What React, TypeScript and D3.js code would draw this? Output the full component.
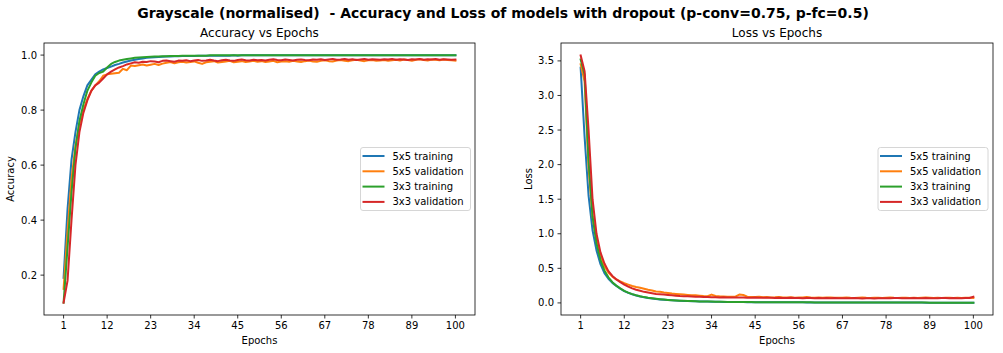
import React from "react";
import * as d3 from "d3";

const epochs = d3.range(1, 101);
const xTicks = [1, 12, 23, 34, 45, 56, 67, 78, 89, 100];
const accTicks = [0.2, 0.4, 0.6, 0.8, 1.0];
const lossTicks = [0.0, 0.5, 1.0, 1.5, 2.0, 2.5, 3.0, 3.5];
const seriesNames = ["5x5 training", "5x5 validation", "3x3 training", "3x3 validation"];
const colors = ["#1f77b4", "#ff7f0e", "#2ca02c", "#d62728"];

const acc5Train = [
  0.19, 0.44, 0.62, 0.72, 0.8, 0.85, 0.89, 0.91, 0.93, 0.94,
  0.948, 0.953, 0.958, 0.964, 0.968, 0.973, 0.977, 0.98, 0.983, 0.986,
  0.988, 0.99, 0.991, 0.992, 0.993, 0.994, 0.995, 0.995, 0.996, 0.996,
  0.997, 0.997, 0.997, 0.997, 0.998, 0.998, 0.998, 0.998, 0.998, 0.998,
  0.998, 0.998, 0.998, 0.999, 0.998, 0.999, 0.999, 0.999, 0.999, 0.999,
  0.999, 0.999, 0.999, 0.999, 0.999, 0.999, 0.999, 0.999, 0.999, 0.999,
  0.999, 0.999, 0.999, 0.999, 0.999, 0.999, 0.999, 0.999, 0.999, 0.999,
  0.999, 0.999, 0.999, 0.999, 0.999, 0.999, 0.999, 0.999, 0.999, 0.999,
  0.999, 0.999, 0.999, 0.999, 0.999, 0.999, 0.999, 0.999, 0.999, 0.999,
  0.999, 0.999, 0.999, 0.999, 0.999, 0.999, 0.999, 0.999, 0.999, 0.999,
];
const acc5Val = [
  0.15, 0.36, 0.55, 0.67, 0.75, 0.8, 0.84, 0.87, 0.89, 0.905,
  0.925, 0.93, 0.932, 0.934, 0.936, 0.95, 0.945, 0.962, 0.96, 0.963,
  0.966, 0.962, 0.965, 0.968, 0.964, 0.969, 0.972, 0.975, 0.97, 0.974,
  0.976, 0.973, 0.975, 0.977, 0.972, 0.968, 0.974, 0.976, 0.978, 0.973,
  0.975, 0.977, 0.979, 0.974, 0.976, 0.978, 0.975, 0.977, 0.979, 0.976,
  0.978, 0.975, 0.977, 0.979, 0.974, 0.977, 0.978, 0.976, 0.979, 0.977,
  0.975, 0.978, 0.98, 0.977, 0.976, 0.979, 0.981, 0.978, 0.977, 0.98,
  0.982, 0.979, 0.978, 0.981, 0.983, 0.98, 0.978, 0.981, 0.982, 0.979,
  0.98, 0.982, 0.979, 0.981, 0.983, 0.98, 0.984, 0.982, 0.979, 0.983,
  0.985, 0.982, 0.98, 0.984, 0.983, 0.981, 0.984, 0.982, 0.981, 0.98,
];
const acc3Train = [
  0.1, 0.3, 0.5, 0.66, 0.76, 0.82, 0.87, 0.9, 0.925, 0.935,
  0.94, 0.955, 0.968, 0.975, 0.98, 0.983, 0.986, 0.988, 0.99, 0.991,
  0.992, 0.993, 0.994, 0.995, 0.995, 0.996, 0.996, 0.997, 0.997, 0.997,
  0.998, 0.998, 0.998, 0.998, 0.998, 0.998, 0.998, 0.999, 0.999, 0.999,
  0.999, 0.999, 0.999, 0.999, 0.999, 0.999, 0.999, 0.999, 0.999, 0.999,
  0.999, 0.999, 0.999, 0.999, 0.999, 0.999, 0.999, 0.999, 0.999, 0.999,
  0.999, 0.999, 0.999, 0.999, 0.999, 0.999, 0.999, 0.999, 0.999, 0.999,
  0.999, 0.999, 0.999, 0.999, 0.999, 0.999, 0.999, 0.999, 0.999, 0.999,
  0.999, 0.999, 0.999, 0.999, 0.999, 0.999, 0.999, 0.999, 0.999, 0.999,
  0.999, 0.999, 0.999, 0.999, 0.999, 0.999, 0.999, 0.999, 0.999, 0.999,
];
const acc3Val = [
  0.1, 0.18, 0.4, 0.6, 0.72, 0.79, 0.835, 0.87, 0.89, 0.9,
  0.915, 0.93, 0.94, 0.948, 0.955, 0.96, 0.966, 0.97, 0.974, 0.972,
  0.976, 0.975, 0.978, 0.977, 0.974, 0.979, 0.98, 0.978, 0.976, 0.98,
  0.979, 0.981, 0.978, 0.98, 0.982, 0.979, 0.98, 0.983, 0.98, 0.978,
  0.981, 0.983, 0.98, 0.979, 0.982, 0.984, 0.981, 0.98, 0.983, 0.981,
  0.982, 0.98, 0.983, 0.985, 0.982, 0.981, 0.984, 0.982, 0.98, 0.983,
  0.984, 0.982, 0.981, 0.984, 0.983, 0.985, 0.982, 0.984, 0.986, 0.983,
  0.984, 0.986, 0.983, 0.985, 0.982, 0.984, 0.986, 0.983, 0.985, 0.984,
  0.983, 0.985, 0.984, 0.986, 0.983, 0.985, 0.984, 0.982, 0.985, 0.984,
  0.986, 0.983, 0.985, 0.984, 0.986, 0.983, 0.985, 0.984, 0.983, 0.984,
];

const loss5Train = [
  3.4, 2.4, 1.55, 1.05, 0.76, 0.56, 0.43, 0.35, 0.29, 0.245,
  0.205, 0.17, 0.145, 0.125, 0.107, 0.093, 0.081, 0.071, 0.063, 0.056,
  0.05, 0.045, 0.041, 0.037, 0.034, 0.031, 0.029, 0.027, 0.025, 0.023,
  0.021, 0.02, 0.019, 0.018, 0.017, 0.016, 0.015, 0.014, 0.014, 0.013,
  0.012, 0.012, 0.011, 0.011, 0.011, 0.01, 0.01, 0.01, 0.009, 0.009,
  0.009, 0.009, 0.008, 0.008, 0.008, 0.008, 0.008, 0.007, 0.007, 0.007,
  0.007, 0.007, 0.007, 0.006, 0.006, 0.006, 0.006, 0.006, 0.006, 0.006,
  0.006, 0.006, 0.005, 0.005, 0.005, 0.005, 0.005, 0.005, 0.005, 0.005,
  0.005, 0.005, 0.005, 0.005, 0.005, 0.005, 0.005, 0.004, 0.004, 0.004,
  0.004, 0.004, 0.004, 0.004, 0.004, 0.004, 0.004, 0.004, 0.004, 0.004,
];
const loss5Val = [
  3.45, 3.2, 1.95, 1.25, 0.9, 0.68, 0.53, 0.44, 0.38, 0.34,
  0.31, 0.285, 0.265, 0.245, 0.23, 0.22, 0.205, 0.19, 0.18, 0.165,
  0.16, 0.15, 0.145, 0.135, 0.13, 0.125, 0.12, 0.115, 0.11, 0.11,
  0.105, 0.1, 0.098, 0.12, 0.1, 0.095, 0.092, 0.09, 0.088, 0.09,
  0.12, 0.115, 0.09, 0.087, 0.085, 0.088, 0.083, 0.085, 0.08, 0.082,
  0.086, 0.08, 0.078, 0.082, 0.075, 0.078, 0.08, 0.085, 0.079, 0.076,
  0.078, 0.074, 0.077, 0.08, 0.076, 0.073, 0.075, 0.078, 0.074, 0.072,
  0.075, 0.078, 0.073, 0.071, 0.074, 0.076, 0.072, 0.075, 0.077, 0.073,
  0.071, 0.074, 0.076, 0.072, 0.075, 0.07, 0.073, 0.077, 0.074, 0.071,
  0.074, 0.072, 0.076, 0.073, 0.07, 0.074, 0.072, 0.075, 0.073, 0.071,
];
const loss3Train = [
  3.52, 3.3, 2.05, 1.25, 0.86, 0.62, 0.47, 0.37, 0.3, 0.25,
  0.21, 0.175, 0.148, 0.127, 0.11, 0.096, 0.084, 0.074, 0.066, 0.059,
  0.053, 0.048, 0.043, 0.039, 0.036, 0.033, 0.03, 0.028, 0.026, 0.024,
  0.022, 0.021, 0.02, 0.019, 0.018, 0.017, 0.016, 0.015, 0.015, 0.014,
  0.013, 0.013, 0.012, 0.012, 0.011, 0.011, 0.011, 0.01, 0.01, 0.01,
  0.009, 0.009, 0.009, 0.009, 0.008, 0.008, 0.008, 0.008, 0.008, 0.007,
  0.007, 0.007, 0.007, 0.007, 0.007, 0.006, 0.006, 0.006, 0.006, 0.006,
  0.006, 0.006, 0.006, 0.005, 0.005, 0.005, 0.005, 0.005, 0.005, 0.005,
  0.005, 0.005, 0.005, 0.005, 0.005, 0.005, 0.005, 0.005, 0.004, 0.004,
  0.004, 0.004, 0.004, 0.004, 0.004, 0.004, 0.004, 0.004, 0.004, 0.004,
];
const loss3Val = [
  3.58, 3.35, 2.5, 1.5, 1.0, 0.73, 0.57, 0.46, 0.39, 0.34,
  0.3, 0.265, 0.235, 0.21, 0.19, 0.175, 0.16, 0.15, 0.14, 0.13,
  0.125, 0.12, 0.115, 0.11, 0.105, 0.1, 0.098, 0.095, 0.092, 0.09,
  0.088, 0.086, 0.085, 0.083, 0.082, 0.08, 0.081, 0.079, 0.078, 0.08,
  0.077, 0.078, 0.076, 0.075, 0.077, 0.074, 0.075, 0.073, 0.074, 0.072,
  0.073, 0.071, 0.072, 0.074, 0.07, 0.071, 0.069, 0.072, 0.07, 0.068,
  0.07, 0.069, 0.071, 0.068, 0.07, 0.067, 0.069, 0.066, 0.068, 0.07,
  0.067, 0.065, 0.068, 0.066, 0.064, 0.067, 0.069, 0.066, 0.068, 0.07,
  0.072, 0.069, 0.066, 0.068, 0.071, 0.067, 0.069, 0.072, 0.068, 0.066,
  0.069, 0.072, 0.07, 0.068, 0.071, 0.069, 0.067, 0.07, 0.072, 0.088,
];

const FONT = "DejaVu Sans, sans-serif";

type PanelProps = {
  left: number;
  right: number;
  top: number;
  bottom: number;
  title: string;
  yLabel: string;
  yTicks: number[];
  series: number[][];
  legendX: number;
};

function Panel(props: PanelProps) {
  const { left, right, top, bottom, title, yLabel, yTicks, series, legendX } = props;

  // matplotlib style 5% margins on both axes
  const [xMin, xMax] = [1, 100];
  const xPad = (xMax - xMin) * 0.05;
  const x = d3.scaleLinear().domain([xMin - xPad, xMax + xPad]).range([left, right]);

  const all = series.flat();
  const yMin = d3.min(all) ?? 0;
  const yMax = d3.max(all) ?? 1;
  const yPad = (yMax - yMin) * 0.05;
  const y = d3.scaleLinear().domain([yMin - yPad, yMax + yPad]).range([bottom, top]);

  const line = d3
    .line<number>()
    .x((_, i) => x(epochs[i]))
    .y((d) => y(d));

  const legendY = (top + bottom) / 2 - 31.5;

  return (
    <g fontFamily={FONT}>
      <text x={(left + right) / 2} y={top - 6} textAnchor="middle" fontSize={12}>
        {title}
      </text>
      <defs>
        <clipPath id={`clip-${left}`}>
          <rect x={left} y={top} width={right - left} height={bottom - top} />
        </clipPath>
      </defs>
      <g clipPath={`url(#clip-${left})`}>
        {series.map((s, i) => (
          <path
            key={i}
            d={line(s) ?? ""}
            fill="none"
            stroke={colors[i]}
            strokeWidth={2}
            strokeLinejoin="round"
            strokeLinecap="square"
          />
        ))}
      </g>
      <rect
        x={left}
        y={top}
        width={right - left}
        height={bottom - top}
        fill="none"
        stroke="#000"
        strokeWidth={0.8}
      />
      {xTicks.map((t) => (
        <g key={t} transform={`translate(${x(t)},${bottom})`}>
          <line y2={3.5} stroke="#000" strokeWidth={0.8} />
          <text y={14} textAnchor="middle" fontSize={10}>
            {t}
          </text>
        </g>
      ))}
      {yTicks.map((t) => (
        <g key={t} transform={`translate(${left},${y(t)})`}>
          <line x2={-3.5} stroke="#000" strokeWidth={0.8} />
          <text x={-7} dy="0.35em" textAnchor="end" fontSize={10}>
            {t.toFixed(1)}
          </text>
        </g>
      ))}
      <text x={(left + right) / 2} y={bottom + 29} textAnchor="middle" fontSize={10}>
        Epochs
      </text>
      <text
        transform={`translate(${yLabel === "Loss" ? left - 29 : left - 30},${(top + bottom) / 2}) rotate(-90)`}
        textAnchor="middle"
        fontSize={10}
      >
        {yLabel}
      </text>
      <g transform={`translate(${legendX},${legendY})`}>
        <rect
          width={110}
          height={63}
          rx={2.5}
          fill="#fff"
          fillOpacity={0.8}
          stroke="#cccccc"
          strokeWidth={0.8}
        />
        {seriesNames.map((name, i) => (
          <g key={name} transform={`translate(0,${8.5 + i * 15.3})`}>
            <line x1={2} x2={24} stroke={colors[i]} strokeWidth={2} />
            <text x={32} dy="0.35em" fontSize={10}>
              {name}
            </text>
          </g>
        ))}
      </g>
    </g>
  );
}

export default function App() {
  return (
    <svg
      width={1003}
      height={353}
      style={{ position: "absolute", left: 0, top: 0, background: "#fff" }}
    >
      <text
        x={503}
        y={18}
        textAnchor="middle"
        fontFamily={FONT}
        fontSize={14}
        fontWeight="bold"
        style={{ whiteSpace: "pre" }}
      >
        Grayscale (normalised)  - Accuracy and Loss of models with dropout (p-conv=0.75, p-fc=0.5)
      </text>
      <Panel
        left={44}
        right={475}
        top={43}
        bottom={315}
        title="Accuracy vs Epochs"
        yLabel="Accuracy"
        yTicks={accTicks}
        series={[acc5Train, acc5Val, acc3Train, acc3Val]}
        legendX={360.5}
      />
      <Panel
        left={561}
        right={993}
        top={43}
        bottom={315}
        title="Loss vs Epochs"
        yLabel="Loss"
        yTicks={lossTicks}
        series={[loss5Train, loss5Val, loss3Train, loss3Val]}
        legendX={878}
      />
    </svg>
  );
}
